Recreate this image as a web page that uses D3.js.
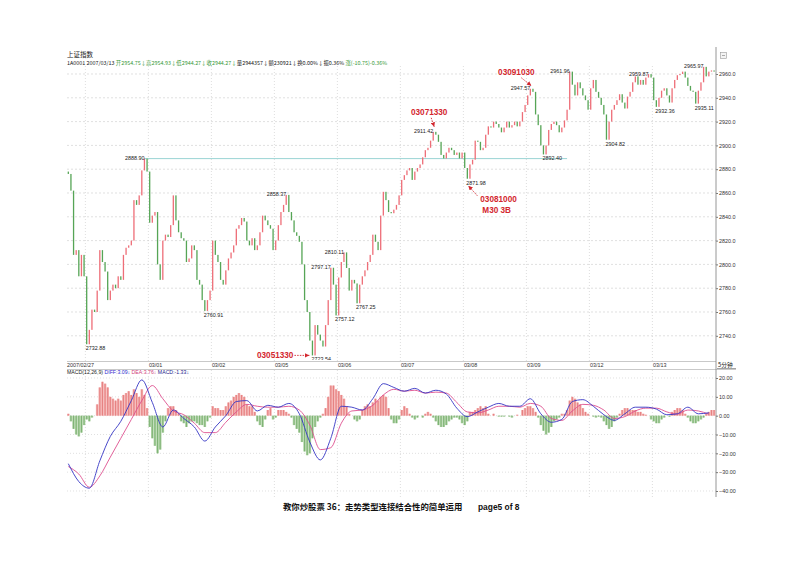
<!DOCTYPE html>
<html>
<head>
  <meta charset="utf-8">
  <title>上证指数 5分钟</title>
  <script src="https://cdn.jsdelivr.net/npm/d3@7"></script>
  <style>
    body{margin:0;background:#fff;}
    text{font-family:"Liberation Sans", Arial, sans-serif;}
    .cjk{font-family:"Noto Sans CJK SC", "Liberation Sans", sans-serif;}
  </style>
</head>
<body>
<div id="vis"></div>
<script>
  // closes of the (10 min) bars; open = previous close
  var firstOpen = 2878;
  var closes = [
    2876,2862,2808,2812,2790,2808,2790,2732.9,2745,2762,2760,2778,2812,2802,2794,2770,2778,2783,2780,2790,
    2787,2808,2814,2816,2820,2854,2850,2858,2879,2888.9,2878,2835,2841,2844,2800,2787,2820,2825,2823,2833,
    2858,2837,2827,2822,2820,2802,2805,2816,2812,2787,2783,2770,2760.9,2770,2778,2820,2808,2802,2787,2783,
    2795,2805,2810,2816,2830,2833,2839,2836,2820,2816,2822,2812,2816,2827,2841,2837,2833,2830,2812,2820,
    2833,2844,2850,2858.4,2844,2837,2827,2824,2819,2800,2770,2760,2736,2723.5,2749,2741,2736,2731,2749,2770,
    2797.2,2783,2757.1,2789,2802,2810.1,2797,2778,2787,2784,2767.3,2783,2790,2795,2802,2808,2825,2819,2812,2841,
    2861,2854,2844,2843,2846,2850,2858,2871,2875,2879,2881,2871,2878,2881,2884,2890,2896,2898,2904,2911.4,
    2909,2903,2892,2889,2894,2898,2896,2892,2894,2889,2894,2881,2872,2884,2888,2904,2903,2896,2898,2909,
    2916,2915,2920,2918,2915,2911,2915,2920,2915,2917,2920,2916,2920,2928,2934,2942,2947.6,2945,2926,2917,
    2900,2892.4,2900,2913,2918,2920,2917,2911,2915,2921,2930,2962,2951,2942,2953,2948,2942,2938,2930,2948,
    2955,2945,2940,2934,2926,2904.8,2920,2930,2934,2938,2943,2936,2931,2941,2945,2953,2958,2951,2955,2951,
    2957,2959.9,2957,2938,2932.4,2940,2946,2948,2942,2936,2948,2955,2959,2960,2962,2957,2950,2946,2945,2935.1,
    2946,2953,2966,2958,2962,2963,2962
  ];

  // MACD histogram, one value per bar
  var macdHist = [
    1,-3,-7,-10,-11,-9,-5,-2,-3,-1,0,6,15,18,17,15,10,9,8,9,
    8,11,12,13,11,14,12,10,14,11,4,-6,-12,-16,-20,-18,-9,-3,4,5,
    5,3,1,-3,-4,-6,-4,-3,-3,-4,-5,-5,-6,-3,-1,5,4,4,3,3,
    5,7,8,10,11,12,11,10,6,5,5,2,-3,-5,-6,-2,3,4,-2,-1,
    3,3,3,2,1,-1,-5,-7,-9,-14,-19,-21,-20,-12,-6,-3,-1,1,4,10,
    16,16,14,13,11,9,5,1,0,-2,-3,-2,3,5,6,5,7,9,8,10,
    11,10,4,-2,-4,-4,-2,3,5,4,1,-1,-2,-1,0,-1,1,2,1,-1,
    -3,-5,-6,-6,-5,-3,-2,-1,-1,-2,-4,-5,-3,2,2,3,4,5,4,5,
    1,0,1,0,-0.5,-0.5,-0.5,0,-0.5,-1,0,0.5,0,3,4,5,5,4,2,-1,
    -5,-8,-10,-9,-6,-3,-2,-1,1,1,3,8,10,9,7,6,4,2,1,0,
    -0.5,-1,-0.5,-1,-3,-5,-7,-6,-3,-1,1,3,4,4,3,3,3,2,2,1,
    0.5,0,-2,-3,-4,-4,-2,-1,0,-0.5,2,3,4,4,3,1,-1,-3,-4,-4,
    -3,-2,-1,1,2,3,3
  ];

  // DIFF and DEA, sampled every 4 bars
  var sampleStep = 4;
  var diff = [
    -25.5,-35,-38.5,-24,-11,-3,8,19,7,-6,3,-1.5,-6,-13.5,-6,0,7.5,8,2.5,5.5,
    4.5,6.5,1,-14,-23.5,-12,5,4.5,3,9,17,15,13,14.5,12,13.5,11.5,4,-0.5,2,
    4.5,6.5,5,5,9,1,-3.5,-2,7.5,8.5,5,0.5,-2.5,1,4.5,4.5,3.5,0.5,1,4.5,
    1,1.5
  ];
  var dea = [
    -27,-31,-38,-32,-22,-12,-2,8,16,9,2.5,0.5,-4,-9,-9,-3.5,2,6,5,4.5,
    4.5,5,3,-5,-18,-17,-4,2.5,3,5.5,11,14,13,13.5,12,12.5,12,7,2,1.5,
    3,5,5,4.5,6.5,5,-1.5,-2.5,2.5,6,5.5,3,-1.5,-0.5,2.5,4,4,2,0.8,3,
    2.5,0.8
  ];

  var priceTicks = [2740,2760,2780,2800,2820,2840,2860,2880,2900,2920,2940,2960];
  var macdTicks = [-40,-30,-20,-10,0,10,20];
  var dayStart = [7,31,55,79,103,127,151,175,199,223];
  var dayLabel = ['','03/01','03/02','03/05','03/06','03/07','03/08','03/09','03/12','03/13'];
  var firstLabel = '2007/02/27';

  // marked highs ('h') and lows ('l')
  var markIdx = [29,7,52,83,105,100,102,110,93,139,152,176,191,181,205,221,224,242,239];
  var markVal = [2888.90,2732.88,2760.91,2858.37,2810.11,2797.17,2757.12,2767.25,2723.54,2911.42,
                 2871.98,2947.57,2961.96,2892.40,2904.82,2959.87,2932.36,2965.97,2935.11];
  var markSide = ['h','l','l','h','h','h','l','l','l','h','l','h','h','l','l','h','l','h','l'];

  var W = 800, H = 566;
  var left = 67, right = 716;
  var svg = d3.select('#vis').append('svg').attr('width', W).attr('height', H);

  var x = d3.scaleLinear().domain([0, closes.length]).range([left, 715.4]);
  function cx(i){ return x(i + 0.5); }
  var y = d3.scaleLinear().domain([2740, 2960]).range([335.8, 74]);
  var ym = d3.scaleLinear().domain([-40, 20]).range([491, 378]);
  var step = x(1) - x(0);

  var red = '#ee6e78', green = '#56a556', ann = '#d3262e';

  // header
  svg.append('text').attr('class','cjk').attr('x', left).attr('y', 57)
    .attr('font-size', 6.5).attr('fill', '#222').text('上证指数');
  var hdr = svg.append('text').attr('class','cjk').attr('x', left).attr('y', 65).attr('font-size', 5.4);
  hdr.append('tspan').attr('fill','#222').text('1A0001  2007/03/13 ');
  hdr.append('tspan').attr('fill','#3a9a3a').text('开2954.75↓高2954.93↓低2944.27↓收2944.27↓');
  hdr.append('tspan').attr('fill','#222').text('量2944357↓额230921↓换0.00%↓振0.36% ');
  hdr.append('tspan').attr('fill','#3a9a3a').text('涨(-10.75)-0.36%');

  // grids
  var grid = svg.append('g');
  grid.selectAll('line.h').data(priceTicks).join('line')
    .attr('x1', left).attr('x2', right).attr('y1', d => y(d)).attr('y2', d => y(d))
    .attr('stroke', '#d2d2d2').attr('stroke-dasharray', '2,2').attr('stroke-width', 0.7);
  grid.selectAll('line.hm').data(macdTicks).join('line')
    .attr('x1', left).attr('x2', right).attr('y1', d => ym(d)).attr('y2', d => ym(d))
    .attr('stroke', '#d2d2d2').attr('stroke-dasharray', '1,2').attr('stroke-width', 0.7);
  dayStart.forEach(function(s){
    grid.append('line').attr('x1', x(s)).attr('x2', x(s)).attr('y1', 66).attr('y2', 361)
      .attr('stroke', '#d0d0d0').attr('stroke-dasharray', '1,2').attr('stroke-width', 0.7);
    grid.append('line').attr('x1', x(s)).attr('x2', x(s)).attr('y1', 370).attr('y2', 497)
      .attr('stroke', '#d0d0d0').attr('stroke-dasharray', '1,2').attr('stroke-width', 0.7);
  });

  // date band
  svg.append('line').attr('x1', left).attr('x2', right).attr('y1', 361.5).attr('y2', 361.5)
    .attr('stroke', '#bbb').attr('stroke-width', 0.8);
  svg.append('line').attr('x1', left).attr('x2', right + 20).attr('y1', 369.5).attr('y2', 369.5)
    .attr('stroke', '#bbb').attr('stroke-width', 0.8);
  var dates = svg.append('g').attr('font-size', 5.4).attr('fill', '#333');
  dates.append('text').attr('x', x(0)).attr('y', 367).text(firstLabel);
  dayStart.forEach(function(s, k){
    if(dayLabel[k]) dates.append('text').attr('x', x(s) + 0.5).attr('y', 367).text(dayLabel[k]);
  });
  svg.append('text').attr('class','cjk').attr('x', 718).attr('y', 367).attr('font-size', 5.8)
    .attr('fill', '#222').text('5分钟');
  svg.append('line').attr('x1', 717).attr('x2', 736).attr('y1', 368.5).attr('y2', 368.5)
    .attr('stroke', '#666').attr('stroke-width', 0.6);

  // price panel
  svg.append('clipPath').attr('id', 'pc').append('rect')
    .attr('x', left).attr('y', 60).attr('width', right - left).attr('height', 300);
  var pg = svg.append('g').attr('clip-path', 'url(#pc)');

  var base = markIdx[0];
  pg.append('line').attr('x1', cx(base)).attr('x2', cx(190)).attr('y1', y(markVal[0])).attr('y2', y(markVal[0]))
    .attr('stroke', '#8fcfcf').attr('stroke-width', 0.9);

  function openOf(i){ return i === 0 ? firstOpen : closes[i - 1]; }
  pg.selectAll('rect.c').data(closes).join('rect')
    .attr('x', (d, i) => cx(i) - 0.65).attr('width', 1.3)
    .attr('y', (d, i) => y(Math.max(d, openOf(i))))
    .attr('height', (d, i) => Math.max(1, Math.abs(y(d) - y(openOf(i)))))
    .attr('fill', (d, i) => d >= openOf(i) ? red : green);

  pg.selectAll('text.m').data(markIdx).join('text')
    .attr('font-size', 5.4).attr('fill', '#222')
    .attr('text-anchor', (d, k) => markSide[k] == 'h' ? 'end' : 'start')
    .attr('x', (d, k) => markSide[k] == 'h' ? cx(d) : cx(d) - 1)
    .attr('y', (d, k) => y(markVal[k]) + (markSide[k] == 'h' ? 1.5 : 6))
    .text((d, k) => markVal[k].toFixed(2));

  // price axis
  var ax = svg.append('g').attr('transform', 'translate(' + right + ',0)')
    .call(d3.axisRight(y).tickValues(priceTicks).tickFormat(d3.format('.1f')).tickSize(2).tickPadding(1));
  ax.select('.domain').remove();
  ax.selectAll('text').attr('font-size', 5.4).attr('fill', '#333').attr('font-family', '"Liberation Sans", Arial');
  ax.selectAll('line').attr('stroke', '#777');
  svg.append('line').attr('x1', right).attr('x2', right).attr('y1', 47).attr('y2', 497)
    .attr('stroke', '#8a8a8a').attr('stroke-width', 0.9);
  svg.append('rect').attr('x', 720.5).attr('y', 52.5).attr('width', 6).attr('height', 6)
    .attr('fill', '#f4f4f4').attr('stroke', '#999').attr('stroke-width', 0.6);
  svg.append('line').attr('x1', 722).attr('x2', 725).attr('y1', 55.5).attr('y2', 55.5)
    .attr('stroke', '#777').attr('stroke-width', 0.6);

  // annotations
  var defs = svg.append('defs');
  defs.append('marker').attr('id', 'ah').attr('viewBox', '0 0 6 6').attr('refX', 6).attr('refY', 3)
    .attr('markerWidth', 5).attr('markerHeight', 5).attr('orient', 'auto')
    .append('path').attr('d', 'M0,0L6,3L0,6Z').attr('fill', ann);

  function arrow(x1, y1, x2, y2){
    svg.append('line').attr('x1', x1).attr('y1', y1).attr('x2', x2).attr('y2', y2)
      .attr('stroke', ann).attr('stroke-width', 0.9).attr('stroke-dasharray', '1.5,1.2')
      .attr('marker-end', 'url(#ah)');
  }
  function label(tx, ty, t, anchor){
    svg.append('text').attr('x', tx).attr('y', ty).attr('font-size', 8.2).attr('font-weight', 'bold')
      .attr('fill', ann).attr('text-anchor', anchor || 'start').text(t);
  }

  var p1x = cx(93), p1y = y(2723.54);
  arrow(p1x - 18, p1y, p1x - 3, p1y);
  label(p1x - 19, p1y + 2.5, '03051330', 'end');

  var p2x = cx(139), p2y = y(2911.42);
  arrow(p2x - 2, p2y - 14, p2x + 1, p2y - 5);
  label(p2x - 4, p2y - 17, '03071330', 'middle');

  var p3x = cx(152), p3y = y(2871.98);
  arrow(p3x + 10, p3y + 17, p3x + 1, p3y + 7);
  label(p3x + 13, p3y + 23, '03081000');
  label(p3x + 15, p3y + 34, 'M30 3B');

  var p4x = cx(176), p4y = y(2947.57);
  arrow(p4x - 9, p4y - 11, p4x + 1, p4y - 3);
  label(p4x - 14, p4y - 14, '03091030', 'middle');

  // MACD panel
  var mh = svg.append('text').attr('x', left).attr('y', 374).attr('font-size', 5.2);
  mh.append('tspan').attr('fill', '#222').text('MACD(12,26,9) ');
  mh.append('tspan').attr('fill', '#2a2acc').text('DIFF:3.09↓ ');
  mh.append('tspan').attr('fill', '#d0407a').text('DEA:3.76↓ ');
  mh.append('tspan').attr('fill', '#1c1c8c').text('MACD:-1.33↓');

  var mg = svg.append('g');
  mg.selectAll('rect.hb').data(macdHist).join('rect')
    .attr('x', (d, i) => x(i)).attr('width', step)
    .attr('y', d => ym(Math.max(0, d))).attr('height', d => Math.abs(ym(d) - ym(0)))
    .attr('fill', d => d >= 0 ? '#f4b0b0' : '#b2d4a8');
  mg.selectAll('line.hl').data(macdHist).join('line')
    .attr('x1', (d, i) => cx(i)).attr('x2', (d, i) => cx(i))
    .attr('y1', ym(0)).attr('y2', d => ym(d))
    .attr('stroke', d => d >= 0 ? '#e06a6a' : '#66a45c').attr('stroke-width', 0.7);

  var ln = d3.line().x((d, k) => cx(k * sampleStep)).y(d => ym(d)).curve(d3.curveMonotoneX);
  mg.append('path').attr('d', ln(dea)).attr('fill', 'none').attr('stroke', '#de4f8e').attr('stroke-width', 0.9);
  mg.append('path').attr('d', ln(diff)).attr('fill', 'none').attr('stroke', '#3434c4').attr('stroke-width', 0.9);

  var amx = svg.append('g').attr('transform', 'translate(' + right + ',0)')
    .call(d3.axisRight(ym).tickValues(macdTicks).tickFormat(d3.format('.2f')).tickSize(2).tickPadding(1));
  amx.select('.domain').remove();
  amx.selectAll('text').attr('font-size', 5.4).attr('fill', '#333').attr('font-family', '"Liberation Sans", Arial');
  amx.selectAll('line').attr('stroke', '#777');

  // footer
  svg.append('text').attr('class', 'cjk').attr('x', 283).attr('y', 510).attr('font-size', 8.4)
    .attr('font-weight', 'bold').attr('fill', '#111').text('教你炒股票 36：走势类型连接结合性的简单运用');
  svg.append('text').attr('x', 478).attr('y', 510).attr('font-size', 8.4)
    .attr('font-weight', 'bold').attr('fill', '#111').text('page5 of 8');
</script>
</body>
</html>
